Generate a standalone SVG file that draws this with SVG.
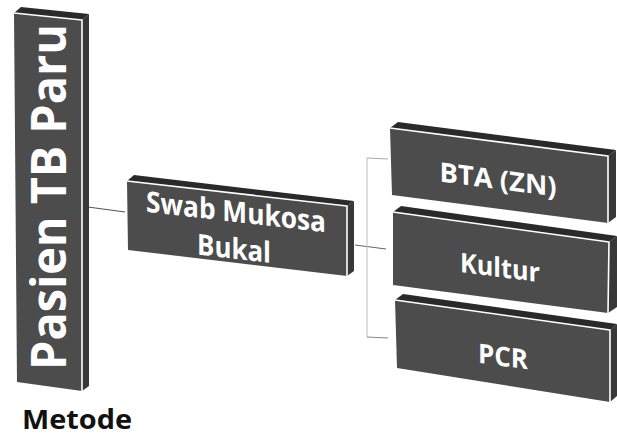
<svg xmlns="http://www.w3.org/2000/svg" width="617" height="437" viewBox="0 0 617 437">
<style>
.front{fill:#4c4c4c}
.top{fill:#2a2a2a}
.side{fill:#383838}
.hl{fill:none;stroke:#ffffff;stroke-width:1.6;stroke-linejoin:round}
.lbl{font-family:"Open Sans","Liberation Sans",sans-serif;font-weight:bold;fill:#ffffff;text-anchor:middle}
.conn{fill:none;stroke-width:1.1}
</style>
<rect width="617" height="437" fill="#ffffff"/>
<g id="connectors">
<line class="conn" x1="88" y1="207" x2="125" y2="212" stroke="#555555"/>
<line class="conn" x1="355" y1="245" x2="386" y2="249" stroke="#666666"/>
<line class="conn" x1="367" y1="158" x2="367" y2="337" stroke="#c4c4c4"/>
<line class="conn" x1="367" y1="158" x2="388" y2="159" stroke="#aaaaaa"/>
<line class="conn" x1="367" y1="337" x2="388" y2="338" stroke="#888888"/>
</g>
<g id="pasien">
<polygon class="top" points="14,13 82,20 89,14 21,7"/>
<polygon class="side" points="82,20 89,14 89,386 82,391"/>
<polygon class="front" points="14,13 82,20 82,391 17,382"/>
<polyline class="hl" points="14,13 82,20 82,391"/>
<text class="lbl" transform="translate(66,197) rotate(-90)" font-size="48" textLength="346" lengthAdjust="spacingAndGlyphs">Pasien TB Paru</text>
</g>
<g id="swab">
<polygon class="top" points="127,181 347,206 354,201 134,175"/>
<polygon class="side" points="347,206 354,201 354,271 347,276"/>
<polygon class="front" points="127,181 347,206 347,276 128,250"/>
<polyline class="hl" points="127,181 347,206 347,276"/>
<g transform="translate(236,222) skewY(6.5)">
<text class="lbl" x="0" y="0" font-size="29" textLength="180" lengthAdjust="spacingAndGlyphs">Swab Mukosa</text>
<text class="lbl" x="-2" y="37" font-size="29" textLength="74" lengthAdjust="spacingAndGlyphs">Bukal</text>
</g>
</g>
<g id="bta">
<polygon class="top" points="390,128 608,156 616,150 398,122"/>
<polygon class="side" points="608,156 616,150 616,217 608,223"/>
<polygon class="front" points="390,128 608,156 608,223 392,195"/>
<polyline class="hl" points="390,128 608,156 608,223"/>
<text class="lbl" transform="translate(498,189) skewY(7.3)" font-size="27" textLength="117" lengthAdjust="spacingAndGlyphs">BTA (ZN)</text>
</g>
<g id="kultur">
<polygon class="top" points="393,212 609,242 617,236 401,206"/>
<polygon class="side" points="609,242 617,236 617,307 608,313"/>
<polygon class="front" points="393,212 609,242 608,313 393,285"/>
<polyline class="hl" points="393,212 609,242 608,313"/>
<text class="lbl" transform="translate(500,277) skewY(7.3)" font-size="27" textLength="80" lengthAdjust="spacingAndGlyphs">Kultur</text>
</g>
<g id="pcr">
<polygon class="top" points="395,300 610,330 617,324 403,294"/>
<polygon class="side" points="610,330 617,324 617,396 610,402"/>
<polygon class="front" points="395,300 610,330 610,402 397,368"/>
<polyline class="hl" points="395,300 610,330 610,402"/>
<text class="lbl" transform="translate(503,366) skewY(7.3)" font-size="27" textLength="50" lengthAdjust="spacingAndGlyphs">PCR</text>
</g>
<text x="22" y="429" font-family="'Open Sans','Liberation Sans',sans-serif" font-weight="bold" font-size="26" fill="#111111" textLength="110" lengthAdjust="spacingAndGlyphs">Metode</text>
</svg>
